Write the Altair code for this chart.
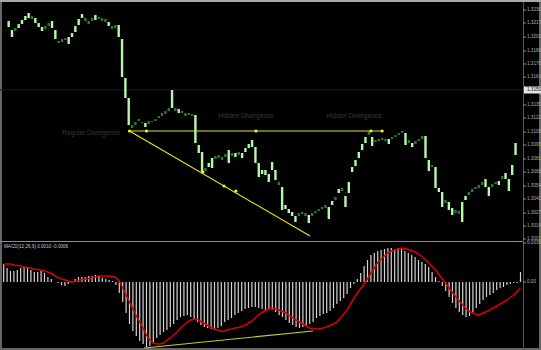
import altair as alt
import pandas as pd
import numpy as np

# ---------------- data ----------------
# candle bodies (upper / lower edge of each body), one per bar
body_high = [
    1.3219, 1.3210, 1.3212, 1.3216, 1.3220, 1.3224, 1.3227, 1.3224, 1.3222, 1.3217,
    1.3213, 1.3214, 1.3217, 1.3219, 1.3210, 1.3199, 1.3201, 1.3202, 1.3203, 1.3207,
    1.3214, 1.3221, 1.3226, 1.3222, 1.3219, 1.3222, 1.3225, 1.3223, 1.3222, 1.3221,
    1.3218, 1.3214, 1.3215, 1.3215, 1.3201, 1.3162, 1.3142, 1.3115, 1.3118, 1.3121,
    1.3118, 1.3117, 1.3119, 1.3119, 1.3121, 1.3124, 1.3127, 1.3129, 1.3132, 1.3150,
    1.3132, 1.3131, 1.3129, 1.3127, 1.3127, 1.3126, 1.3125, 1.3095, 1.3088, 1.3072,
    1.3077, 1.3082, 1.3084, 1.3085, 1.3083, 1.3086, 1.3090, 1.3087, 1.3087, 1.3088,
    1.3087, 1.3092, 1.3096, 1.3100, 1.3093, 1.3077, 1.3070, 1.3070, 1.3066, 1.3078,
    1.3070, 1.3058, 1.3053, 1.3035, 1.3031, 1.3028, 1.3024, 1.3027, 1.3028, 1.3027,
    1.3025, 1.3027, 1.3029, 1.3031, 1.3033, 1.3035, 1.3033, 1.3039, 1.3043, 1.3051,
    1.3052, 1.3044, 1.3058, 1.3073, 1.3080, 1.3088, 1.3096, 1.3103, 1.3108, 1.3103,
    1.3100, 1.3101, 1.3102, 1.3101, 1.3101, 1.3103, 1.3105, 1.3107, 1.3109, 1.3107,
    1.3100, 1.3097, 1.3099, 1.3101, 1.3104, 1.3104, 1.3080, 1.3075, 1.3073, 1.3052,
    1.3048, 1.3040, 1.3038, 1.3032, 1.3030, 1.3029, 1.3038, 1.3044, 1.3048, 1.3051,
    1.3053, 1.3055, 1.3058, 1.3061, 1.3053, 1.3056, 1.3058, 1.3059, 1.3064, 1.3067,
    1.3061, 1.3075, 1.3097,
]
body_low = [
    1.3213, 1.3203, 1.3209, 1.3212, 1.3216, 1.3220, 1.3222, 1.3221, 1.3217, 1.3213,
    1.3209, 1.3211, 1.3214, 1.3212, 1.3201, 1.3197, 1.3198, 1.3200, 1.3196, 1.3203,
    1.3208, 1.3215, 1.3222, 1.3219, 1.3216, 1.3219, 1.3220, 1.3221, 1.3219, 1.3218,
    1.3214, 1.3211, 1.3212, 1.3203, 1.3163, 1.3142, 1.3115, 1.3112, 1.3115, 1.3119,
    1.3117, 1.3113, 1.3116, 1.3118, 1.3119, 1.3122, 1.3124, 1.3126, 1.3129, 1.3132,
    1.3129, 1.3127, 1.3127, 1.3124, 1.3125, 1.3124, 1.3097, 1.3087, 1.3068, 1.3069,
    1.3073, 1.3072, 1.3081, 1.3082, 1.3080, 1.3083, 1.3077, 1.3084, 1.3083, 1.3085,
    1.3082, 1.3088, 1.3092, 1.3093, 1.3077, 1.3063, 1.3066, 1.3065, 1.3058, 1.3070,
    1.3060, 1.3055, 1.3030, 1.3031, 1.3027, 1.3024, 1.3018, 1.3024, 1.3026, 1.3024,
    1.3017, 1.3024, 1.3027, 1.3029, 1.3031, 1.3032, 1.3021, 1.3035, 1.3040, 1.3047,
    1.3049, 1.3033, 1.3047, 1.3068, 1.3074, 1.3082, 1.3090, 1.3097, 1.3105, 1.3094,
    1.3098, 1.3099, 1.3100, 1.3099, 1.3096, 1.3101, 1.3103, 1.3105, 1.3107, 1.3095,
    1.3097, 1.3093, 1.3096, 1.3099, 1.3101, 1.3082, 1.3069, 1.3073, 1.3052, 1.3048,
    1.3033, 1.3037, 1.3030, 1.3025, 1.3027, 1.3026, 1.3018, 1.3040, 1.3045, 1.3048,
    1.3051, 1.3052, 1.3055, 1.3053, 1.3044, 1.3053, 1.3056, 1.3055, 1.3061, 1.3061,
    1.3049, 1.3065, 1.3085,
]

# MACD histogram and signal line, in units of 0.0001
macd_main_e4 = [
    18, 14, 11, 11, 12, 14, 15, 14, 12, 10,
    10, 11, 9, 5, 3, 0, -1, -3, -4, -2,
    1, 3, 5, 5, 5, 6, 6, 7, 6, 4,
    3, 2, 1, -3, -11, -20, -31, -42, -49, -54,
    -59, -62, -65, -64, -61, -56, -53, -50, -48, -45,
    -42, -38, -35, -34, -33, -35, -37, -40, -43, -45,
    -46, -47, -48, -46, -44, -40, -38, -36, -33, -31,
    -29, -27, -26, -25, -25, -26, -27, -29, -28, -28,
    -30, -33, -35, -38, -41, -43, -45, -46, -45, -44,
    -42, -40, -36, -34, -32, -31, -29, -26, -22, -19,
    -16, -12, -6, -2, 3, 9, 16, 22, 27, 29,
    31, 32, 33, 34, 34, 33, 34, 33, 31, 29,
    27, 25, 22, 20, 18, 15, 10, 5, 1, -4,
    -9, -15, -21, -26, -30, -33, -35, -34, -31, -26,
    -22, -18, -15, -13, -11, -8, -6, -5, -3, -2,
    -1, -1, 10,
]
macd_signal_e4 = [
    18, 18, 18, 17, 16.5, 16, 15, 14.5, 14, 13,
    12.5, 12, 11, 10, 8.5, 6.5, 4.5, 3, 2, 1,
    0, 0.5, 1.5, 2.5, 3, 3.5, 4.5, 5, 6, 6,
    6, 6, 5.5, 4.5, 1, -6, -13, -20, -27, -34,
    -40, -46, -53, -58, -61, -62, -62, -61, -58, -56,
    -53, -50, -46, -43, -40, -38, -37, -37.5, -39.5, -41.5,
    -43.5, -45.5, -47, -48, -49.5, -49, -47.5, -47, -46, -45.5,
    -44.5, -43, -41, -39, -36, -32.5, -30.5, -28.5, -27, -26.5,
    -27, -28, -29.5, -31, -33.5, -35.5, -38, -40, -42, -44,
    -46, -46.5, -47, -46.5, -46, -45, -43.5, -42, -40, -36,
    -32, -28, -22, -16.5, -11, -6.5, -2, 3, 9, 14,
    19.5, 23, 26, 29, 31, 32, 33, 33.5, 33.5, 32.5,
    31.5, 30, 28, 25.5, 22.5, 19, 15.5, 12, 7.5, 3,
    -1.5, -6, -10.5, -15, -19, -23, -26.5, -29.5, -31, -32.5,
    -32.5, -31, -29.5, -28, -26, -24, -22, -20, -18, -15.5,
    -13, -9.5, -6,
]

# price-axis ticks and indicator-axis ticks
price_ticks = [1.3230, 1.3217, 1.3203, 1.3189, 1.3176, 1.3163, 1.3135, 1.3122,
               1.3108, 1.3095, 1.3081, 1.3068, 1.3054, 1.3041, 1.3027, 1.3014, 1.3001]
level_price = [1.3150]
macd_ticks = [0.0039, 0.0]
macd_tick_labels = ["0.0039", "0.00"]

# drawn trend lines (bar index, price)
trend_seg = ["flat", "flat", "down", "down"]
trend_bar = [37, 111.3, 37, 90.1]
trend_price = [1.3109, 1.3109, 1.3109, 1.3004]
dot_bar = [37, 42, 58.6, 64.8, 68.3, 74.2, 108, 111.3]
dot_price = [1.3109, 1.3109, 1.3068, 1.3054, 1.3049, 1.3109, 1.3109, 1.3109]

# divergence line on the indicator
div_bar = [41.3, 91]
div_value_e4 = [-66, -49]

# faint object labels
label_text = ["Regular Divergence", "Hidden Divergence", "Hidden Divergence"]
label_bar = [25.7, 71.3, 103]
label_price = [1.3107, 1.3124, 1.3124]

macd_title = "MACD(12,26,9) 0.0010 -0.0006"

# ---------------- chart ----------------
N = len(body_high)
XS = alt.Scale(domain=[-0.5, N - 0.5], range=[2, 522.2], zero=False, nice=False)
TOP = alt.Scale(domain=[1.3000, 1.3237], range=[240, 3], zero=False, nice=False)
BOT = alt.Scale(domain=[-0.0066, 0.0039], range=[348, 243], zero=False, nice=False)
FONT = "Liberation Sans"

one = pd.DataFrame({"a": [0]})

df_c = pd.DataFrame({"i": np.arange(N), "hi": body_high, "lo": body_low})
df_m = pd.DataFrame({
    "i": np.arange(N),
    "main": np.array(macd_main_e4) * 1e-4,
    "sig": np.array(macd_signal_e4) * 1e-4,
    "zero": 0.0,
})
df_t = pd.DataFrame({"seg": trend_seg, "i": trend_bar, "p": trend_price})
df_d = pd.DataFrame({"i": dot_bar, "p": dot_price})
df_div = pd.DataFrame({"i": div_bar, "v": np.array(div_value_e4) * 1e-4})
df_lab = pd.DataFrame({"t": label_text, "i": label_bar, "p": label_price})
df_pt = pd.DataFrame({"p": price_ticks, "lab": [f"{v:.4f}" for v in price_ticks]})
df_lv = pd.DataFrame({"p": level_price, "lab": [f"{v:.4f}" for v in level_price]})
df_mt = pd.DataFrame({"v": macd_ticks, "lab": macd_tick_labels})

X = lambda f: alt.X(f, scale=XS, axis=None)
YT = lambda f: alt.Y(f, scale=TOP, axis=None)
YB = lambda f: alt.Y(f, scale=BOT, axis=None)

level = alt.Chart(df_lv).mark_rule(color="#1e1e1e", strokeWidth=1).encode(
    x=alt.value(0), x2=alt.value(523), y=YT("p:Q"))

separator = alt.Chart(one).mark_rule(color="#8c8c8c", strokeWidth=1).encode(
    x=alt.value(0), x2=alt.value(523), y=alt.value(241.5))

axis_line = alt.Chart(one).mark_rule(color="#555555", strokeWidth=1).encode(
    x=alt.value(523.5), y=alt.value(0), y2=alt.value(350))

top_edge = alt.Chart(one).mark_rule(color="#a8a8a8", strokeWidth=2).encode(
    x=alt.value(0), x2=alt.value(541), y=alt.value(1))

# small bodies look dim in the source, long ones bright
candles = alt.Chart(df_c).mark_bar(size=2.4).encode(
    x=X("i:Q"), y=YT("hi:Q"), y2="lo:Q",
    color=alt.condition("datum.hi - datum.lo >= 0.00035",
                        alt.value("#b4f8ac"), alt.value("#2c7a2c")))

trend = alt.Chart(df_t).mark_line(color="#e2e216", strokeWidth=1.2).encode(
    x=X("i:Q"), y=YT("p:Q"), detail="seg:N")

dots = alt.Chart(df_d).mark_circle(color="#f2f22a", size=10, opacity=1).encode(
    x=X("i:Q"), y=YT("p:Q"))

labels = alt.Chart(df_lab).mark_text(color="#3a3a3a", fontSize=6.5, font=FONT).encode(
    x=X("i:Q"), y=YT("p:Q"), text="t:N")

hist = alt.Chart(df_m).mark_rule(color="#d4d4d4", strokeWidth=1.2).encode(
    x=X("i:Q"), y=YB("main:Q"), y2="zero:Q")

signal = alt.Chart(df_m).mark_line(color="#d80000", strokeWidth=1.5).encode(
    x=X("i:Q"), y=YB("sig:Q"))

div = alt.Chart(df_div).mark_line(color="#b4d42a", strokeWidth=1.2).encode(
    x=X("i:Q"), y=YB("v:Q"))

pticks = alt.Chart(df_pt).mark_rule(color="#8a8a8a").encode(
    x=alt.value(523), x2=alt.value(526), y=YT("p:Q"))
plabels = alt.Chart(df_pt).mark_text(align="left", baseline="middle", fontSize=4.6,
                                     font=FONT, color="#b0b0b0").encode(
    x=alt.value(527), y=YT("p:Q"), text="lab:N")

lvbox = alt.Chart(df_lv).mark_rule(color="#e6e6e6", strokeWidth=7).encode(
    x=alt.value(524), x2=alt.value(541), y=YT("p:Q"))
lvtext = alt.Chart(df_lv).mark_text(align="left", baseline="middle", fontSize=4.6,
                                    font=FONT, color="#000000").encode(
    x=alt.value(527), y=YT("p:Q"), text="lab:N")

mticks = alt.Chart(df_mt).mark_rule(color="#8a8a8a").encode(
    x=alt.value(523), x2=alt.value(526), y=YB("v:Q"))
mlabels = alt.Chart(df_mt).mark_text(align="left", baseline="middle", fontSize=4.6,
                                     font=FONT, color="#b0b0b0").encode(
    x=alt.value(527), y=YB("v:Q"), text="lab:N")

mtitle = alt.Chart(one).mark_text(align="left", baseline="middle", fontSize=4.6,
                                  font=FONT, color="#c4c4c4").encode(
    x=alt.value(4), y=alt.value(247), text=alt.value(macd_title))

chart = alt.layer(
    level, separator, axis_line, top_edge,
    candles, trend, dots, labels,
    hist, signal, div,
    pticks, plabels, lvbox, lvtext, mticks, mlabels, mtitle,
).resolve_scale(x="independent", y="independent").properties(
    width=541, height=350, padding=0,
    autosize=alt.AutoSizeParams(type="none"),
    background="#000000",
).configure_view(stroke="#666666", strokeWidth=4)

chart.save("out.html", embed_options={"renderer": "svg", "actions": False})
